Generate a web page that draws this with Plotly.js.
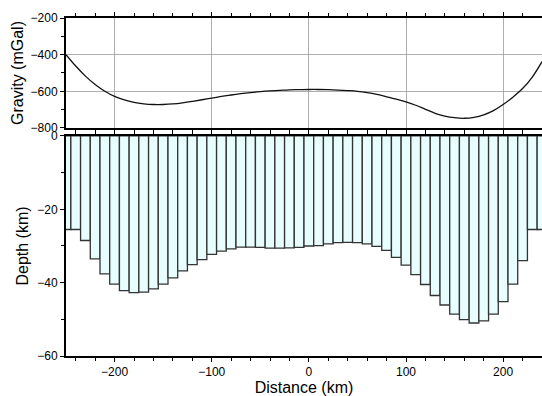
<!DOCTYPE html>
<html><head><meta charset="utf-8">
<script src="https://cdn.plot.ly/plotly-3.0.1.min.js"></script>
<style>html,body{margin:0;padding:0;background:#fff}#chart{width:542px;height:396px}</style>
</head><body><div id="chart"></div>
<script>
const distance = [-250,-240,-230,-220,-210,-200,-190,-180,-170,-160,-150,-140,-130,-120,-110,-100,-90,-80,-70,-60,-50,-40,-30,-20,-10,0,10,20,30,40,50,60,70,80,90,100,110,120,130,140,150,160,170,180,190,200,210,220,230,240];
const gravity = [-400,-462,-517,-563,-600,-628,-647,-660,-668,-672,-672,-669,-663,-655,-646,-637,-628,-620,-613,-607,-602,-598,-595,-592,-591,-590,-590,-591,-593,-596,-600,-607,-617,-630,-643,-658,-676,-698,-720,-735,-744,-747,-742,-728,-705,-672,-632,-585,-522,-438];
const depth = [-25.5,-25.5,-28.5,-33.5,-37.6,-40.4,-42.2,-42.7,-42.6,-41.7,-40.4,-38.7,-36.8,-35.1,-33.7,-32.3,-31.4,-30.8,-30.3,-30.3,-30.4,-30.6,-30.6,-30.5,-30.4,-30.0,-29.9,-29.4,-29.1,-29.0,-29.1,-29.4,-30.1,-31.2,-33.1,-35.2,-37.8,-40.5,-43.5,-46.1,-48.6,-50.1,-51.0,-50.4,-48.6,-45.2,-40.4,-34.0,-25.5,-25.5];
const xTitle = 'Distance (km)';
const gravTitle = 'Gravity (mGal)';
const depthTitle = 'Depth (km)';

const font = {family: 'Liberation Sans, Arial, sans-serif', color: '#000'};
const axBase = {
  showline: true, linecolor: '#000', linewidth: 2, mirror: 'ticks',
  ticks: 'outside', ticklen: 4, tickwidth: 1, tickcolor: '#000',
  zeroline: false, tickfont: {size: 12}
};
const traces = [
  {type: 'bar', x: distance, y: depth, base: 0, width: 10, xaxis: 'x', yaxis: 'y',
   marker: {color: '#e8fdfd', line: {color: '#333', width: 1.3}}, hoverinfo: 'none'},
  {type: 'scatter', mode: 'lines', x: distance, y: gravity, xaxis: 'x2', yaxis: 'y2',
   line: {color: '#111', width: 1.3, shape: 'spline', smoothing: 1}, hoverinfo: 'none'}
];
const layout = {
  width: 542, height: 396, showlegend: false, font: font,
  paper_bgcolor: '#fff', plot_bgcolor: '#fff',
  margin: {l: 66, r: 0, t: 18, b: 40},
  bargap: 0,
  xaxis: Object.assign({}, axBase, {
    domain: [0, 1], anchor: 'y', range: [-250, 240], tick0: 0, dtick: 100,
    minor: {dtick: 20, ticks: 'outside', ticklen: 3, tickcolor: '#000'},
    showgrid: false, title: {text: xTitle, font: {size: 16}, standoff: 5}
  }),
  yaxis: Object.assign({}, axBase, {
    domain: [0, 0.651], anchor: 'x', range: [-60, 0], tick0: 0, dtick: 20,
    minor: {dtick: 10, ticks: 'outside', ticklen: 3, tickcolor: '#000'},
    showgrid: false, title: {text: depthTitle, font: {size: 16}, standoff: 5}
  }),
  xaxis2: Object.assign({}, axBase, {
    domain: [0, 1], anchor: 'y2', range: [-250, 240], tick0: 0, dtick: 100,
    showticklabels: false,
    minor: {dtick: 20, ticks: 'outside', ticklen: 3, tickcolor: '#000'},
    showgrid: true, gridcolor: '#9a9a9a', gridwidth: 0.8
  }),
  yaxis2: Object.assign({}, axBase, {
    domain: [0.6746, 1], anchor: 'x2', range: [-800, -200], tick0: 0, dtick: 200,
    minor: {dtick: 100, ticks: 'outside', ticklen: 3, tickcolor: '#000'},
    showgrid: true, gridcolor: '#9a9a9a', gridwidth: 0.8,
    title: {text: gravTitle, font: {size: 16}, standoff: 3}
  })
};
Plotly.newPlot('chart', traces, layout, {staticPlot: true, displayModeBar: false});
</script>
</body></html>
